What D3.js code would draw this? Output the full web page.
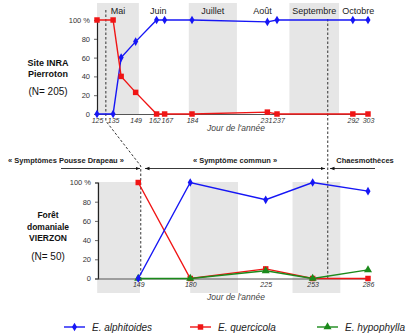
<!DOCTYPE html>
<html>
<head>
<meta charset="utf-8">
<script src="https://cdn.jsdelivr.net/npm/d3@7"></script>
<style>
  body { margin: 0; background: #fff; }
  text { font-family: "Liberation Sans", Arial, sans-serif; }
</style>
</head>
<body>
<script>
// --- data ---
// Site INRA Pierroton (N = 205)
var topDays = [125, 135, 140, 149, 162, 167, 184, 231, 237, 292, 303];
var topTickDays = [125, 135, 149, 162, 167, 184, 231, 237, 292, 303];
var topAlphitoides = [0, 0, 60, 77, 100, 100, 100, 98, 100, 100, 100];
var topQuercicola = [100, 100, 40, 23, 0, 0, 0, 2, 0, 0, 0];

// Forêt domaniale Vierzon (N = 50)
var botDays = [149, 180, 225, 253, 286];
var botAlphitoides = [0, 100, 82, 100, 91];
var botQuercicola = [100, 0, 10, 0, 0];
var botHypophylla = [0, 0, 8, 0, 9];

var months = ["Mai", "Juin", "Juillet", "Août", "Septembre", "Octobre"];
var monthLabelDays = [138, 163, 197, 228, 264, 296];
var topBands = [[125, 151], [182, 212], [246, 282]];
var botBands = [[124.5, 150], [180, 208.5], [241, 269.5]];
var yTicks = [0, 20, 40, 60, 80, 100];

var W = 406, H = 333;
var svg = d3.select("body").append("svg").attr("width", W).attr("height", H);

var blue = "#1616f5", red = "#f01515", green = "#1b8a1b";

// top x axis of the original is not evenly spaced
var xTop = d3.scaleLinear().domain([125, 184, 237, 303]).range([97, 192, 277, 368]);
var yTop = d3.scaleLinear().domain([0, 100]).range([114, 20]);
var xBot = d3.scaleLinear().domain([125, 286]).range([98, 368]);
var yBot = d3.scaleLinear().domain([0, 100]).range([278.5, 182.5]);

// grey month bands
svg.selectAll(".bandTop").data(topBands).enter().append("rect")
  .attr("x", d => xTop(d[0])).attr("width", d => xTop(d[1]) - xTop(d[0]))
  .attr("y", 3).attr("height", 111).attr("fill", "#e6e6e6");
svg.selectAll(".bandBot").data(botBands).enter().append("rect")
  .attr("x", d => xBot(d[0])).attr("width", d => xBot(d[1]) - xBot(d[0]))
  .attr("y", 182).attr("height", 111).attr("fill", "#e6e6e6");

// month names
svg.selectAll(".month").data(months).enter().append("text")
  .attr("x", (d, i) => xTop(monthLabelDays[i])).attr("y", 14)
  .attr("text-anchor", "middle").attr("font-size", 9).attr("fill", "#222")
  .text(d => d);

function axes(x, y, ticks, yPos, labelY) {
  var ya = svg.append("g").attr("transform", "translate(" + x.range()[0] + ",0)")
    .call(d3.axisLeft(y).tickValues(yTicks).tickSize(3).tickPadding(4)
      .tickFormat(d => d === 100 ? "100 %" : d));
  ya.select(".domain").attr("stroke", "#222").attr("stroke-width", 1.2);
  ya.selectAll("text").attr("font-size", 7.5).attr("fill", "#333");
  ya.selectAll("line").attr("stroke", "#666");

  var xa = svg.append("g").attr("transform", "translate(0," + yPos + ")")
    .call(d3.axisBottom(x).tickValues(ticks).tickSize(0).tickPadding(4));
  xa.select(".domain").attr("stroke", "#555").attr("stroke-width", 1.2);
  xa.selectAll("text").attr("font-size", 7).attr("font-style", "italic").attr("fill", "#333");

  // push apart tick numbers that sit too close together
  var minGap = 12.5;
  for (var i = 0; i < ticks.length - 1; i++) {
    var gap = x(ticks[i + 1]) - x(ticks[i]);
    if (gap < minGap) {
      var s = (minGap - gap) / 2;
      xa.selectAll(".tick text").filter(d => d === ticks[i]).attr("dx", -s);
      xa.selectAll(".tick text").filter(d => d === ticks[i + 1]).attr("dx", s);
    }
  }

  svg.append("text").attr("x", 207).attr("y", labelY)
    .attr("font-size", 8.5).attr("font-style", "italic").attr("fill", "#444")
    .text("Jour de l'année");
}
axes(xTop, yTop, topTickDays, 114, 131);
axes(xBot, yBot, botDays, 278.5, 300);

// dashed separators
var dash = "2.5,2";
svg.append("path")
  .attr("d", d3.line()([[xTop(130.5), 10], [xTop(130.5), 121], [xBot(150.5), 166], [xBot(150.5), 280]]))
  .attr("fill", "none").attr("stroke", "#333").attr("stroke-dasharray", dash);
svg.append("line")
  .attr("x1", xBot(262)).attr("x2", xBot(262)).attr("y1", 19).attr("y2", 280)
  .attr("stroke", "#333").attr("stroke-dasharray", dash);

// series
function series(x, y, days, vals, color, sym, size) {
  var pts = days.map((d, i) => [x(d), y(vals[i])]);
  svg.append("path").attr("d", d3.line()(pts))
    .attr("fill", "none").attr("stroke", color).attr("stroke-width", 1.4);
  svg.append("g").selectAll("path").data(pts).enter().append("path")
    .attr("transform", d => "translate(" + d + ")")
    .attr("d", d3.symbol().type(sym).size(size)).attr("fill", color);
}
series(xTop, yTop, topDays, topAlphitoides, blue, d3.symbolDiamond, 22);
series(xTop, yTop, topDays, topQuercicola, red, d3.symbolSquare, 30);

series(xBot, yBot, botDays, botQuercicola, red, d3.symbolSquare, 30);
series(xBot, yBot, botDays, botHypophylla, green, d3.symbolTriangle, 28);
series(xBot, yBot, botDays, botAlphitoides, blue, d3.symbolDiamond, 22);

// left titles
function block(lines, x) {
  lines.forEach(function(l) {
    svg.append("text").attr("x", x).attr("y", l[1]).attr("text-anchor", "middle")
      .attr("font-size", l[2]).attr("font-weight", l[3] ? "bold" : "normal")
      .attr("fill", "#111").text(l[0]);
  });
}
block([["Site INRA", 66, 9, true], ["Pierroton", 77, 9, true], ["(N= 205)", 95, 10, false]], 48);
block([["Forêt", 218, 8.5, true], ["domaniale", 229.5, 8.5, true], ["VIERZON", 241, 8.5, true], ["(N= 50)", 260, 10, false]], 48);

// symptom phases with arrows
var defs = svg.append("defs");
defs.append("marker").attr("id", "ah").attr("viewBox", "0 0 10 10")
  .attr("refX", 10).attr("refY", 5).attr("markerWidth", 5).attr("markerHeight", 5)
  .attr("orient", "auto-start-reverse")
  .append("path").attr("d", "M0,1L10,5L0,9Z").attr("fill", "#111");

var phases = [
  {label: "« Symptômes  Pousse Drapeau »", tx: 66, x1: 61, x2: 140, start: false},
  {label: "« Symptôme commun »", tx: 235, x1: 145, x2: 325, start: true},
  {label: "Chaesmothèces", tx: 365, x1: 330, x2: 375, start: true, noEnd: true}
];
phases.forEach(function(p) {
  var l = svg.append("line").attr("x1", p.x1).attr("x2", p.x2).attr("y1", 168.5).attr("y2", 168.5)
    .attr("stroke", "#222").attr("stroke-width", 0.9);
  if (!p.noEnd) l.attr("marker-end", "url(#ah)");
  if (p.start) l.attr("marker-start", "url(#ah)");
  svg.append("text").attr("x", p.tx).attr("y", 163).attr("text-anchor", "middle")
    .attr("font-size", 7.5).attr("font-weight", "bold").attr("fill", "#222").text(p.label);
});

// legend
var legend = [
  {name: "E. alphitoides", color: blue, sym: d3.symbolDiamond, size: 22, x: 64},
  {name: "E. quercicola", color: red, sym: d3.symbolSquare, size: 30, x: 190},
  {name: "E. hypophylla", color: green, sym: d3.symbolTriangle, size: 28, x: 317}
];
var lg = svg.append("g").selectAll("g").data(legend).enter().append("g")
  .attr("transform", d => "translate(" + d.x + ",327)");
lg.append("line").attr("x1", 0).attr("x2", 21).attr("stroke", d => d.color).attr("stroke-width", 1.4);
lg.append("path").attr("transform", "translate(10.5,0)")
  .attr("d", d => d3.symbol().type(d.sym).size(d.size)()).attr("fill", d => d.color);
lg.append("text").attr("x", 28).attr("y", 3.5).attr("font-size", 10).attr("font-style", "italic")
  .attr("fill", "#222").text(d => d.name);
</script>
</body>
</html>
